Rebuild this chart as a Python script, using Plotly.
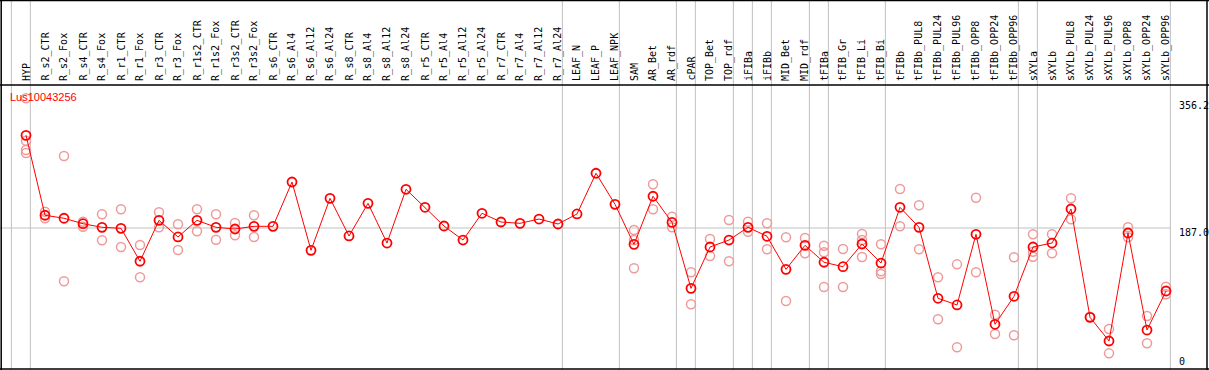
import plotly.graph_objects as go

W, H = 1209, 370

categories = ["HYP", "R_s2_CTR", "R_s2_Fox", "R_s4_CTR", "R_s4_Fox", "R_r1_CTR", "R_r1_Fox",
              "R_r3_CTR", "R_r3_Fox", "R_r1s2_CTR", "R_r1s2_Fox", "R_r3s2_CTR", "R_r3s2_Fox",
              "R_s6_CTR", "R_s6_Al4", "R_s6_Al12", "R_s6_Al24", "R_s8_CTR", "R_s8_Al4",
              "R_s8_Al12", "R_s8_Al24", "R_r5_CTR", "R_r5_Al4", "R_r5_Al12", "R_r5_Al24",
              "R_r7_CTR", "R_r7_Al4", "R_r7_Al12", "R_r7_Al24", "LEAF_N", "LEAF_P", "LEAF_NPK",
              "SAM", "AR_Bet", "AR_rdf", "cPAR", "TOP_Bet", "TOP_rdf", "iFIBa", "iFIBb",
              "MID_Bet", "MID_rdf", "tFIBa", "tFIB_Gr", "tFIB_Li", "tFIB_Bi", "tFIBb",
              "tFIBb_PUL8", "tFIBb_PUL24", "tFIBb_PUL96", "tFIBb_OPP8", "tFIBb_OPP24",
              "tFIBb_OPP96", "sXYLa", "sXYLb", "sXYLb_PUL8", "sXYLb_PUL24", "sXYLb_PUL96",
              "sXYLb_OPP8", "sXYLb_OPP24", "sXYLb_OPP96"]

mean_values = [307.9, 203.6, 199.7, 192.6, 187.9, 186.6, 143.6, 197.0, 175.3, 197.0, 187.9,
               185.7, 189.2, 189.2, 247.0, 157.9, 225.7, 176.6, 219.2, 167.4, 237.5, 214.0,
               189.6, 171.3, 206.2, 194.8, 193.1, 198.7, 192.2, 205.3, 258.4, 217.9, 165.7,
               228.4, 194.4, 108.3, 162.2, 171.3, 187.9, 176.2, 133.1, 164.4, 142.3, 136.5,
               166.1, 141.3, 214.0, 187.9, 95.3, 86.6, 178.8, 61.4, 97.9, 162.2, 167.4,
               211.8, 70.5, 39.6, 180.5, 53.9, 104.8]

replicates = [
    [356.2, 300.9, 288.7, 284.8], [208.3, 199.7], [280.9, 117.5], [195.2, 188.7],
    [204.9, 171.0], [211.4, 162.2], [164.8, 122.7], [207.5, 187.9], [191.8, 158.3],
    [211.4, 182.7], [204.9, 171.7], [193.5, 177.5], [203.6, 175.3],
    [], [], [], [], [], [], [], [], [], [], [], [], [], [], [], [], [], [], [],
    [184.4, 171.3, 134.4], [244.0, 211.4], [201.7, 187.9], [129.2, 87.5],
    [172.7, 150.5], [197.4, 143.6], [195.2, 182.2], [193.1, 159.2], [174.9, 91.8],
    [174.0, 154.0], [163.9, 155.3, 110.0], [159.6, 110.0], [179.2, 171.3, 149.2],
    [165.7, 130.5, 127.0], [237.9, 189.2], [216.6, 159.2], [122.7, 67.9],
    [139.6, 31.4], [226.5, 129.2], [73.9, 48.7], [148.8, 47.0],
    [178.8, 156.1, 149.6], [178.8, 154.0], [225.7, 198.3], [71.3], [55.2, 23.5],
    [187.9, 174.9], [72.2, 36.6], [110.4, 100.5],
]

group_ends = [-1, 0, 28, 31, 34, 35, 37, 38, 39, 41, 42, 45, 52, 53, 60]
title_text = "Lus10043256"
axis_labels = ["356.2", "187.0", "0"]
axis_label_px = [106, 232, 361]
ref_value = 187.0

# pixel <-> data geometry
x0_px, dx_px = 26.0, 19.0
x_range = [(0 - x0_px) / dx_px, (W - x0_px) / dx_px]
y_ref_px, y_scale = 228.0, 0.7666
y_range = [ref_value + (y_ref_px - H) / y_scale, ref_value + y_ref_px / y_scale]

def py(px):
    return (H - px) / H

def px_x(px):
    return px / W

rep_x, rep_y = [], []
for i, reps in enumerate(replicates):
    for v in reps:
        rep_x.append(i)
        rep_y.append(v)

fig = go.Figure()
fig.add_trace(go.Scatter(
    x=rep_x, y=rep_y, mode="markers",
    marker=dict(symbol="circle-open", size=9, color="#ef9a9a", line=dict(width=1.5, color="#ef9a9a")),
    hoverinfo="skip", showlegend=False))
fig.add_trace(go.Scatter(
    x=list(range(len(categories))), y=mean_values, mode="lines+markers",
    line=dict(color="#ff0000", width=1),
    marker=dict(symbol="circle-open", size=9, color="#ff0000", line=dict(width=1.8, color="#ff0000")),
    showlegend=False))

shapes = []
for e in group_ends:
    shapes.append(dict(type="line", xref="x", yref="paper", x0=e + 0.23, x1=e + 0.23, y0=0, y1=1,
                       line=dict(color="#c0c0c0", width=1), layer="below"))
shapes.append(dict(type="line", xref="x", yref="y", x0=x_range[0], x1=group_ends[-1] + 0.23,
                   y0=ref_value, y1=ref_value, line=dict(color="#c0c0c0", width=1), layer="below"))
# frame
blk = dict(color="#000000", width=1.5)
shapes += [
    dict(type="line", xref="paper", yref="paper", x0=0, x1=1, y0=py(0.5), y1=py(0.5), line=blk),
    dict(type="line", xref="paper", yref="paper", x0=0, x1=1, y0=py(85), y1=py(85), line=blk),
    dict(type="line", xref="paper", yref="paper", x0=0, x1=1, y0=py(369), y1=py(369), line=blk),
    dict(type="line", xref="paper", yref="paper", x0=px_x(1.2), x1=px_x(1.2), y0=0, y1=1, line=blk),
    dict(type="line", xref="paper", yref="paper", x0=px_x(1207), x1=px_x(1207), y0=0, y1=1, line=blk),
]

annotations = []
for i, c in enumerate(categories):
    annotations.append(dict(x=i, xref="x", y=py(83), yref="paper", text=c, textangle=-90,
                            showarrow=False, xanchor="center", yanchor="bottom",
                            font=dict(family="DejaVu Sans Mono", size=10, color="#000000")))
annotations.append(dict(x=px_x(8), xref="paper", y=py(97), yref="paper", text=title_text,
                        showarrow=False, xanchor="left", yanchor="middle",
                        font=dict(family="Liberation Sans, Arial", size=11, color="#ff0000")))
for lab, p in zip(axis_labels, axis_label_px):
    annotations.append(dict(x=px_x(1177), xref="paper", y=py(p), yref="paper", text=lab,
                            showarrow=False, xanchor="left", yanchor="middle",
                            font=dict(family="DejaVu Sans Mono", size=10, color="#000000")))

fig.update_layout(
    width=W, height=H, margin=dict(l=0, r=0, t=0, b=0),
    paper_bgcolor="white", plot_bgcolor="white",
    xaxis=dict(range=x_range, visible=False, fixedrange=True),
    yaxis=dict(range=y_range, visible=False, fixedrange=True),
    shapes=shapes, annotations=annotations, showlegend=False,
)
fig.write_html("out.html", config={"displayModeBar": False},
               post_script="document.body.style.margin='0';document.body.style.overflow='hidden';")
